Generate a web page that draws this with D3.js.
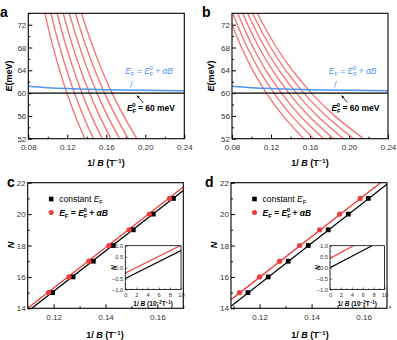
<!DOCTYPE html>
<html>
<head>
<meta charset="utf-8">
<script src="https://cdn.jsdelivr.net/npm/d3@7"></script>
<style>
  body { margin: 0; background: #fff; }
  svg { font-family: "Liberation Sans", Arial, sans-serif; }
  .tick text { font-size: 8px; fill: #333; }
  .tick line { stroke: #000; }
  .domain { display: none; }
</style>
</head>
<body>
<div id="chart"></div>
<script>
// Landau levels N = 15..21
var levels = [15, 16, 17, 18, 19, 20, 21];

// panel a: 1/B position of each level at these energies (meV)
var energyA = [74, 69, 64, 60, 56, 52];
var curvesA = [
  [0.0970, 0.1040, 0.1121, 0.1196, 0.1282, 0.1380],
  [0.1032, 0.1107, 0.1194, 0.1273, 0.1364, 0.1469],
  [0.1095, 0.1174, 0.1266, 0.1350, 0.1447, 0.1558],
  [0.1158, 0.1241, 0.1338, 0.1428, 0.1530, 0.1647],
  [0.1220, 0.1309, 0.1411, 0.1505, 0.1612, 0.1736],
  [0.1283, 0.1376, 0.1483, 0.1582, 0.1695, 0.1825],
  [0.1345, 0.1443, 0.1555, 0.1659, 0.1778, 0.1914]
];

// panel b
var energyB = [78, 73, 68, 64, 60, 56, 52];
var curvesB = [
  [0.0682, 0.0779, 0.0898, 0.1013, 0.1153, 0.1324, 0.1535],
  [0.0728, 0.0831, 0.0957, 0.1081, 0.1230, 0.1412, 0.1637],
  [0.0773, 0.0883, 0.1017, 0.1148, 0.1307, 0.1500, 0.1740],
  [0.0819, 0.0935, 0.1077, 0.1216, 0.1384, 0.1588, 0.1842],
  [0.0864, 0.0987, 0.1137, 0.1284, 0.1460, 0.1676, 0.1944],
  [0.0910, 0.1039, 0.1197, 0.1351, 0.1537, 0.1765, 0.2047],
  [0.0955, 0.1090, 0.1257, 0.1419, 0.1614, 0.1853, 0.2149]
];

// E_F = E_F^0 + alpha B (blue) and E_F^0 (black)
var blueX = [0.08, 0.10, 0.12, 0.14, 0.16, 0.20, 0.24];
var blueE = [61.2, 60.96, 60.8, 60.69, 60.6, 60.48, 60.4];
var fermiE0 = 60;

// panel c: 1/B of each N
var cBlackX = [0.1196, 0.1275, 0.1353, 0.1430, 0.1507, 0.1584, 0.1662];
var cRedX   = [0.1180, 0.1259, 0.1336, 0.1413, 0.1491, 0.1569, 0.1647];
var cBlackFit = [[0.11, 13.8], [0.17, 21.5]];
var cRedFit   = [[0.11, 14.0], [0.17, 21.72]];
var cInsetBlack = [[0, -0.5], [10, 0.78]];
var cInsetRed   = [[0, -0.25], [9.8, 1.0]];

// panel d
var dBlackX = [0.1155, 0.1233, 0.1310, 0.1387, 0.1464, 0.1541, 0.1618];
var dRedX   = [0.1123, 0.1200, 0.1277, 0.1354, 0.1431, 0.1508, 0.1587];
var dBlackFit = [[0.109, 14.13], [0.169, 21.9]];
var dRedFit   = [[0.109, 14.55], [0.169, 22.32]];
var dInsetBlack = [[0, 0.0], [7.7, 1.0]];
var dInsetRed   = [[0, 0.42], [4.3, 1.0]];

var eTicks = [52, 56, 60, 64, 68, 72];
var eMinor = [54, 58, 62, 66, 70, 74];
var xTicksAB = [0.08, 0.12, 0.16, 0.20, 0.24];
var xMinorAB = [0.10, 0.14, 0.18, 0.22];
var nTicks = [14, 16, 18, 20, 22];
var nMinor = [15, 17, 19, 21];
var xTicksCD = [0.12, 0.14, 0.16];
var xMinorCD = [0.11, 0.13, 0.15, 0.17];

var redCurve = "#f47878", red = "#ee3a3a", blue = "#4f95ef";

var svg = d3.select("#chart").append("svg")
  .attr("width", 397)
  .attr("height", 340);

var clipId = 0;

// frame + inward ticks
function panel(box, xDom, yDom, xt, xm, yt, ym, xfmt, yfmt, fs) {
  var x = d3.scaleLinear().domain(xDom).range([box.l, box.r]);
  var y = d3.scaleLinear().domain(yDom).range([box.b, box.t]);
  var g = svg.append("g");
  var major = box.major || 4, minor = box.minor || 2;

  g.append("g").attr("transform", "translate(0," + box.b + ")")
    .call(d3.axisBottom(x).tickValues(xm).tickSize(-minor).tickFormat(""));
  g.append("g").attr("transform", "translate(0," + box.b + ")")
    .call(d3.axisBottom(x).tickValues(xt).tickSize(-major).tickPadding(box.xpad || 6).tickFormat(xfmt));
  g.append("g").attr("transform", "translate(" + box.l + ",0)")
    .call(d3.axisLeft(y).tickValues(ym).tickSize(-minor).tickFormat(""));
  g.append("g").attr("transform", "translate(" + box.l + ",0)")
    .call(d3.axisLeft(y).tickValues(yt).tickSize(-major).tickPadding(2).tickFormat(yfmt));
  if (fs) g.selectAll(".tick text").style("font-size", fs + "px");

  var id = "clip" + (clipId++);
  svg.append("clipPath").attr("id", id)
    .append("rect").attr("x", box.l).attr("y", box.t)
    .attr("width", box.r - box.l).attr("height", box.b - box.t);
  var plot = svg.append("g").attr("clip-path", "url(#" + id + ")");

  svg.append("rect")
    .attr("x", box.l).attr("y", box.t)
    .attr("width", box.r - box.l).attr("height", box.b - box.t)
    .attr("fill", "none").attr("stroke", "#000").attr("stroke-width", box.sw || 1.1);
  return {x: x, y: y, plot: plot, g: g};
}

function fmt2(d) { return d3.format(".2f")(d); }
function fmtInt(d) { return d; }

// "1/ B (T^-1)" style title
function xTitle(cx, cy, unit) {
  var t = svg.append("text").attr("x", cx).attr("y", cy)
    .attr("text-anchor", "middle").attr("font-size", 9).attr("font-weight", "bold");
  t.append("tspan").text("1/ ");
  t.append("tspan").attr("font-style", "italic").text("B");
  t.append("tspan").text(" (" + unit);
  t.append("tspan").attr("font-size", 6).attr("dy", -3.5).text("\u22121");
  t.append("tspan").attr("dy", 3.5).text(")");
  return t;
}

// E_F = E_F^0 + alpha B
function fermiLabel(sel) {
  sel.append("tspan").attr("font-style", "italic").text("E");
  sel.append("tspan").attr("font-size", "0.7em").attr("dy", 2).text("F");
  sel.append("tspan").attr("dy", -2).text(" = ");
  sel.append("tspan").attr("font-style", "italic").text("E");
  sel.append("tspan").attr("font-size", "0.7em").attr("dy", 2).text("F");
  sel.append("tspan").attr("font-size", "0.7em").attr("dx", -4).attr("dy", -6).text("0");
  sel.append("tspan").attr("dy", 4).text(" + ");
  sel.append("tspan").attr("font-style", "italic").text("\u03b1B");
}

function arrow(x1, y1, x2, y2, col) {
  svg.append("line").attr("x1", x1).attr("y1", y1).attr("x2", x2).attr("y2", y2)
    .attr("stroke", col).attr("stroke-width", 0.8);
  var a = Math.atan2(y2 - y1, x2 - x1), L = 3;
  var p = [[x2, y2],
    [x2 - L * Math.cos(a - 0.45), y2 - L * Math.sin(a - 0.45)],
    [x2 - L * Math.cos(a + 0.45), y2 - L * Math.sin(a + 0.45)]];
  svg.append("path").attr("d", "M" + p.join("L") + "Z").attr("fill", col);
}

// ---------- panels a and b ----------
function energyPanel(box, energy, curves, letter, lx, tx, blueEnd, blackEnd, ptr, arr) {
  var p = panel(box, [0.08, 0.24], [52, 74], xTicksAB, xMinorAB, eTicks, eMinor, fmt2, fmtInt);
  var line = d3.line().x(function(d) { return p.x(d[0]); }).y(function(d) { return p.y(d[1]); })
    .curve(d3.curveNatural);

  curves.forEach(function(c) {
    p.plot.append("path")
      .datum(c.map(function(v, i) { return [v, energy[i]]; }))
      .attr("d", line).attr("fill", "none")
      .attr("stroke", redCurve).attr("stroke-width", 1.4);
  });

  p.plot.append("path")
    .datum(blueX.map(function(v, i) { return [v, blueE[i]]; }))
    .attr("d", line).attr("fill", "none").attr("stroke", blue).attr("stroke-width", 1.5);

  p.plot.append("line")
    .attr("x1", p.x(0.08)).attr("x2", p.x(0.24))
    .attr("y1", p.y(fermiE0)).attr("y2", p.y(fermiE0))
    .attr("stroke", "#000").attr("stroke-width", 1.3);

  var bt = svg.append("text").attr("x", blueEnd).attr("y", 74).attr("text-anchor", "end")
    .attr("font-size", 8.5).attr("fill", blue);
  fermiLabel(bt);
  svg.append("line").attr("x1", ptr[0]).attr("y1", ptr[1]).attr("x2", ptr[2]).attr("y2", ptr[3])
    .attr("stroke", blue).attr("stroke-width", 0.8);

  var kt = svg.append("text").attr("x", blackEnd).attr("y", 111).attr("text-anchor", "end")
    .attr("font-size", 8.5).attr("font-weight", "bold");
  kt.append("tspan").attr("font-style", "italic").text("E");
  kt.append("tspan").attr("font-size", "0.7em").attr("dy", 2).text("F");
  kt.append("tspan").attr("font-size", "0.7em").attr("dx", -4).attr("dy", -6).text("0");
  kt.append("tspan").attr("dy", 4).text(" = 60 meV");
  arrow(arr[0], arr[1], arr[2], arr[3], "#000");

  svg.append("text").attr("x", lx).attr("y", 17).attr("font-size", 14)
    .attr("font-weight", "bold").text(letter);

  var yt = svg.append("text").attr("transform", "translate(" + (lx + 12) + ",76) rotate(-90)")
    .attr("text-anchor", "middle").attr("font-size", 9).attr("font-weight", "bold");
  yt.append("tspan").attr("font-style", "italic").text("E");
  yt.append("tspan").text("(meV)");

  xTitle(tx, 166, "T");
}

energyPanel({l: 28.3, r: 184.3, t: 13.3, b: 138.7}, energyA, curvesA, "a", 0, 106,
  173, 175, [132.5, 81, 130.5, 87.5], [143.5, 103, 137, 95.5]);
energyPanel({l: 232, r: 388, t: 13.3, b: 138.7}, energyB, curvesB, "b", 202, 310,
  376.5, 379.5, [336.5, 81, 334.5, 87.5], [347.5, 102.5, 341.5, 95.5]);

// ---------- panels c and d ----------
function nPanel(box, xDom, bx, rx, bFit, rFit, inBox, inB, inR, letter, lx, tx) {
  var p = panel(box, xDom, [14, 22], xTicksCD, xMinorCD, nTicks, nMinor, fmt2, fmtInt);
  var line = d3.line().x(function(d) { return p.x(d[0]); }).y(function(d) { return p.y(d[1]); });

  p.plot.append("path").datum(bFit).attr("d", line)
    .attr("stroke", "#000").attr("stroke-width", 1.3).attr("fill", "none");
  p.plot.append("path").datum(rFit).attr("d", line)
    .attr("stroke", red).attr("stroke-width", 1.3).attr("fill", "none");

  p.plot.selectAll(".sq").data(bx).enter().append("rect")
    .attr("x", function(d) { return p.x(d) - 2.4; })
    .attr("y", function(d, i) { return p.y(levels[i]) - 2.4; })
    .attr("width", 4.8).attr("height", 4.8).attr("fill", "#000");
  p.plot.selectAll(".dot").data(rx).enter().append("circle")
    .attr("cx", function(d) { return p.x(d); })
    .attr("cy", function(d, i) { return p.y(levels[i]); })
    .attr("r", 2.6).attr("fill", red);

  // legend
  var lgx = box.l + 23.5;
  svg.append("rect").attr("x", lgx - 2.3).attr("y", 196.7).attr("width", 4.6).attr("height", 4.6)
    .attr("fill", "#000");
  var t1 = svg.append("text").attr("x", lgx + 8).attr("y", 202).attr("font-size", 8.5);
  t1.append("tspan").text("constant ");
  t1.append("tspan").attr("font-style", "italic").text("E");
  t1.append("tspan").attr("font-size", "0.7em").attr("dy", 2).text("F");
  svg.append("circle").attr("cx", lgx).attr("cy", 212.5).attr("r", 2.5).attr("fill", red);
  var t2 = svg.append("text").attr("x", lgx + 8).attr("y", 216).attr("font-size", 8.5)
    .attr("font-weight", "bold");
  fermiLabel(t2);

  // inset
  svg.append("rect").attr("x", inBox.l).attr("y", inBox.t)
    .attr("width", inBox.r - inBox.l).attr("height", inBox.b - inBox.t).attr("fill", "#fff");
  inBox.major = 2; inBox.minor = 1; inBox.sw = 0.8; inBox.xpad = 3;
  var q = panel(inBox, [0, 10], [-1, 1], [0, 2, 4, 6, 8, 10], [1, 3, 5, 7, 9],
    [-1, -0.5, 0, 0.5, 1], [-0.75, -0.25, 0.25, 0.75],
    function(d) { return d; }, function(d) { return d3.format(".1f")(d).replace("-", "\u2212"); }, 5.8);
  q.g.selectAll(".tick line").attr("stroke-width", 0.6);
  var il = d3.line().x(function(d) { return q.x(d[0]); }).y(function(d) { return q.y(d[1]); });
  q.plot.append("path").datum(inB).attr("d", il).attr("stroke", "#000")
    .attr("stroke-width", 1.2).attr("fill", "none");
  q.plot.append("path").datum(inR).attr("d", il).attr("stroke", red)
    .attr("stroke-width", 1.2).attr("fill", "none");
  svg.append("text").attr("transform", "translate(" + (inBox.l - 12) + "," + ((inBox.t + inBox.b) / 2) + ") rotate(-90)")
    .attr("text-anchor", "middle").attr("dy", "0.35em").attr("font-size", 6.5)
    .attr("font-weight", "bold").attr("font-style", "italic").text("N");
  var it = svg.append("text").attr("x", (inBox.l + inBox.r) / 2).attr("y", 306)
    .attr("text-anchor", "middle").attr("font-size", 6.5).attr("font-weight", "bold");
  it.append("tspan").text("1/ ");
  it.append("tspan").attr("font-style", "italic").text("B");
  it.append("tspan").text(" (10");
  it.append("tspan").attr("font-size", 4.5).attr("dy", -2.5).text("\u22122");
  it.append("tspan").attr("dy", 2.5).text("T");
  it.append("tspan").attr("font-size", 4.5).attr("dy", -2.5).text("\u22121");
  it.append("tspan").attr("dy", 2.5).text(")");

  svg.append("text").attr("x", lx).attr("y", 187).attr("font-size", 14)
    .attr("font-weight", "bold").text(letter);
  svg.append("text").attr("transform", "translate(" + (box.l - 17) + ",245) rotate(-90)")
    .attr("text-anchor", "middle").attr("dy", "0.35em").attr("font-size", 9)
    .attr("font-weight", "bold").attr("font-style", "italic").text("N");
  xTitle(tx, 338, "T");
}

nPanel({l: 27.7, r: 183.3, t: 182.7, b: 308.3}, [0.11, 0.17], cBlackX, cRedX, cBlackFit, cRedFit,
  {l: 125.3, r: 181, t: 245.7, b: 289.5}, cInsetBlack, cInsetRed, "c", 7, 105);
nPanel({l: 231, r: 387, t: 182.7, b: 308.3}, [0.109, 0.169], dBlackX, dRedX, dBlackFit, dRedFit,
  {l: 330, r: 384.5, t: 245.7, b: 289.5}, dInsetBlack, dInsetRed, "d", 205, 310);
</script>
</body>
</html>
